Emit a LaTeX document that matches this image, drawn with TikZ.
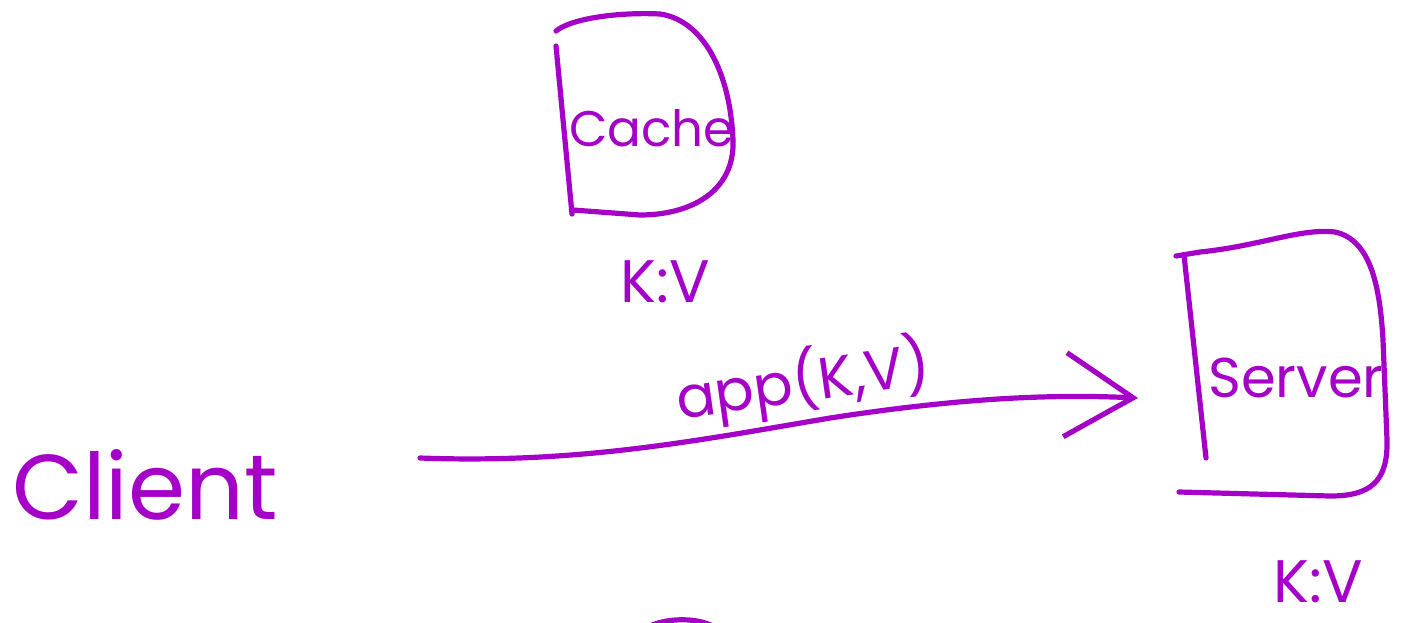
\documentclass[tikz,border=0pt]{standalone}
\usepackage{fontspec}
\setmainfont{Poppins}
\usetikzlibrary{arrows.meta}
\definecolor{mypurple}{RGB}{165,0,200}
\tikzset{
  pen/.style={draw=mypurple, line width=2.6pt, line cap=round, line join=round},
  req arrow/.style={pen, -{Straight Barb[length=34pt, width=42pt]}},
  hand label/.style={text=mypurple, inner sep=0pt, align=center},
  big label/.style={hand label, font=\fontsize{46}{46}\selectfont},
  box label/.style={hand label, font=\fontsize{25}{25}\selectfont},
  kv label/.style={hand label, font=\fontsize{30}{30}\selectfont}
}

\begin{document}
\begin{tikzpicture}[x=0.5pt, y=-0.5pt]
  \useasboundingbox (0,0) rectangle (1406,622);

  % --- Cache ---
  \node[box label] (cache) at (652,128) {Cache};
  \node[kv label] (cache kv) at (665,282) {K:V};
  \draw[pen] (556,31) .. controls (572,18) and (620,12) .. (660,14)
    .. controls (702,20) and (730,70) .. (733,140)
    .. controls (735,192) and (690,215) .. (640,215) -- (573,210);
  \draw[pen] (556,46) -- (572,214);

  % --- Server ---
  \node[box label, font=\fontsize{28}{28}\selectfont] (server) at (1296,378) {Server};
  \node[kv label] (server kv) at (1318,582) {K:V};
  \draw[pen] (1176,256) -- (1200,252) .. controls (1260,246) and (1300,228) .. (1335,232)
    .. controls (1372,240) and (1380,290) .. (1383,340) -- (1387,440)
    .. controls (1388,482) and (1370,496) .. (1330,496) -- (1179,492);
  \draw[pen] (1184,255) -- (1206,458);

  % --- Client and request ---
  \node[big label] (client) at (145,485) {Client};
  \coordinate (req start) at (420,458);
  \coordinate (req end) at (1138,398);
  \draw[req arrow] (req start) .. controls (580,464) and (700,440) .. (830,418)
    .. controls (960,398) and (1050,394) .. (req end);
  \node[hand label, font=\fontsize{29}{29}\selectfont, rotate=8] (req) at (803,382) {app(K,V)};

  % partly visible shape at the bottom edge
  \draw[pen] (646,628) .. controls (665,617) and (700,617) .. (716,628);
\end{tikzpicture}
\end{document}
